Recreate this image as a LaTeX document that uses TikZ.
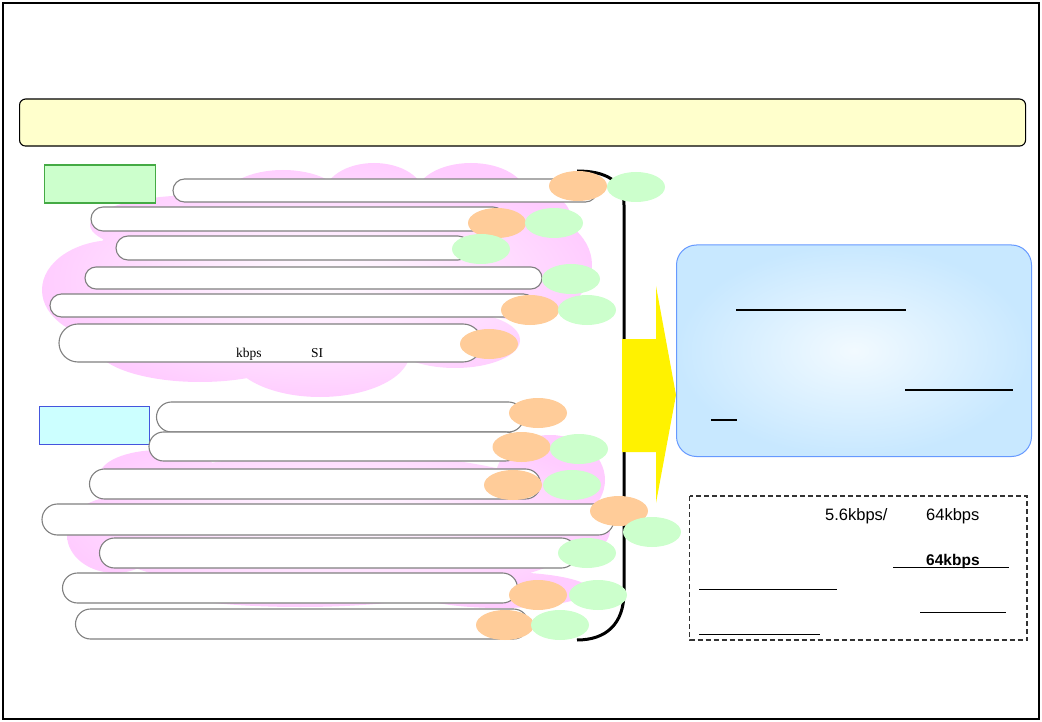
\documentclass[tikz,border=0pt]{standalone}
\usepackage{fontspec}
\setmainfont{Liberation Serif}
\newfontfamily\boxsans{Liberation Sans}
\usetikzlibrary{shapes.misc,shapes.geometric}
\definecolor{pinkc}{HTML}{FFCCFF}
\definecolor{peach}{HTML}{FFCC99}
\definecolor{mint}{HTML}{CCFFCC}
\definecolor{banner}{HTML}{FFFFCC}
\definecolor{pillgray}{HTML}{808080}
\definecolor{greenedge}{HTML}{44AA44}
\definecolor{cyanfill}{HTML}{CCFFFF}
\definecolor{blueedge}{HTML}{4455DD}
\definecolor{skyin}{HTML}{F2FAFF}
\definecolor{skyout}{HTML}{C8E8FF}
\definecolor{skyedge}{HTML}{6699FF}
\definecolor{dashgray}{HTML}{333333}
\begin{document}
\begin{tikzpicture}[x=1pt,y=-1pt,
  pill/.style={rounded rectangle, draw=pillgray, fill=white, line width=1.1pt, inner sep=0pt},
  peachdot/.style={ellipse, fill=peach, minimum width=58pt, minimum height=30pt, inner sep=0pt},
  mintdot/.style={ellipse, fill=mint, minimum width=58pt, minimum height=30pt, inner sep=0pt},
  labelbox/.style={rectangle, line width=1.2pt, inner sep=0pt, anchor=north west},
  uline/.style={line width=0.9pt},
  thickline/.style={line width=2pt},
  sanstext/.style={inner sep=0pt, anchor=base west, font=\boxsans\fontsize{16.5}{18}\selectfont},
  seriftext/.style={inner sep=0pt, anchor=base west, font=\fontsize{13.5}{15}\selectfont}]
\useasboundingbox (0,0) rectangle (1042,722);
% outer frame
\draw[line width=2.2pt] (3,3) rectangle (1039,719);
% banner
\node[draw=black, fill=banner, line width=1.1pt, rounded corners=6pt, inner sep=0pt,
  minimum width=1006pt, minimum height=47pt, anchor=north west] (banner) at (19,98.5) {};
% clouds
\begin{scope}
  \clip (283,200) ellipse [x radius=60, y radius=30]
        (374,195) ellipse [x radius=50, y radius=32]
        (471,195) ellipse [x radius=55, y radius=32]
        (320,265) ellipse [x radius=230, y radius=75]
        (115,290) ellipse [x radius=73, y radius=50]
        (200,345) ellipse [x radius=105, y radius=37]
        (320,352) ellipse [x radius=90, y radius=45]
        (455,340) ellipse [x radius=65, y radius=28]
        (520,265) ellipse [x radius=72, y radius=55]
        (480,215) ellipse [x radius=90, y radius=35]
        (200,225) ellipse [x radius=110, y radius=30];
  \shade[inner color=white, outer color=pinkc] (40,160) rectangle (600,400);
\end{scope}
\begin{scope}
  \clip (340,525) ellipse [x radius=255, y radius=72]
        (160,475) ellipse [x radius=60, y radius=25]
        (550,480) ellipse [x radius=55, y radius=45]
        (115,535) ellipse [x radius=48, y radius=38]
        (300,585) ellipse [x radius=150, y radius=22]
        (560,530) ellipse [x radius=50, y radius=30]
        (500,590) ellipse [x radius=90, y radius=18];
  \shade[inner color=white, outer color=pinkc] (60,428) rectangle (615,612);
\end{scope}
% label boxes
\node[labelbox, draw=greenedge, fill=mint, minimum width=111pt, minimum height=38pt] (grp1) at (44,164.5) {};
\node[labelbox, draw=blueedge, fill=cyanfill, minimum width=110pt, minimum height=38pt] (grp2) at (39,405.5) {};
% upper pills
\node[pill, minimum width=424pt, minimum height=23pt] (u1) at (385,190.5) {};
\node[pill, minimum width=414pt, minimum height=24pt] (u2) at (298,219) {};
\node[pill, minimum width=354pt, minimum height=24pt] (u3) at (293,248) {};
\node[pill, minimum width=457pt, minimum height=22pt] (u4) at (313.5,278) {};
\node[pill, minimum width=485pt, minimum height=23pt] (u5) at (292.5,305.5) {};
\node[pill, minimum width=423pt, minimum height=38pt] (u6) at (270.5,343) {};
\node[seriftext] (kbps) at (236,357) {kbps};
\node[seriftext] (si) at (311,357) {SI};
% lower pills
\node[pill, minimum width=367pt, minimum height=30pt] (l1) at (340,417) {};
\node[pill, minimum width=371pt, minimum height=29pt] (l2) at (334.5,446.5) {};
\node[pill, minimum width=451pt, minimum height=30pt] (l3) at (315,484) {};
\node[pill, minimum width=572pt, minimum height=31pt] (l4) at (328,519.5) {};
\node[pill, minimum width=477pt, minimum height=30pt] (l5) at (338,553) {};
\node[pill, minimum width=455pt, minimum height=30pt] (l6) at (290,588) {};
\node[pill, minimum width=453pt, minimum height=30pt] (l7) at (302,624) {};
% bracket
\draw[line width=3pt] (577,171) .. controls (606,171) and (624,181) .. (624,205)
  -- (624,592) .. controls (624,624) and (606,640) .. (577,640);
% upper dots
\node[peachdot] (po1) at (578,186) {};
\node[mintdot]  (mo1) at (636,187) {};
\node[peachdot] (po2) at (497,223) {};
\node[mintdot]  (mo2) at (554,223) {};
\node[mintdot]  (mo3) at (481,249) {};
\node[mintdot]  (mo4) at (571,279) {};
\node[peachdot] (po5) at (530,310) {};
\node[mintdot]  (mo5) at (587,310) {};
\node[peachdot] (po6) at (489,344) {};
% lower dots
\node[peachdot] (pl1) at (538,413) {};
\node[peachdot] (pl2) at (521.5,447) {};
\node[mintdot]  (ml2) at (579,449) {};
\node[peachdot] (pl3) at (513,485) {};
\node[mintdot]  (ml3) at (572,485) {};
\node[peachdot] (pl4) at (619,511) {};
\node[mintdot]  (ml4) at (652,532) {};
\node[mintdot]  (ml5) at (587,553) {};
\node[peachdot] (pl6) at (538,595) {};
\node[mintdot]  (ml6) at (598,595) {};
\node[peachdot] (pl7) at (505,625) {};
\node[mintdot]  (ml7) at (560,625) {};
% yellow arrow
\fill[yellow] (622,339) -- (656,339) -- (656,286) -- (676,395) -- (656,503)
  -- (656,452) -- (622,452) -- cycle;
% result box
\shade[inner color=skyin, outer color=skyout, rounded corners=20pt] (676.5,245) rectangle (1031.5,456.5);
\draw[draw=skyedge, line width=1pt, rounded corners=20pt] (676.5,245) rectangle (1031.5,456.5);
\coordinate (res) at (854,351);
\draw[thickline] (736,310) -- (906,310);
\draw[thickline] (905,390) -- (1013,390);
\draw[thickline] (711,420) -- (737,420);
% note box
\draw[dashgray, dash pattern=on 5pt off 3pt, line width=1.2pt] (689.5,496) rectangle (1027,640);
\coordinate (note) at (858,568);
\node[sanstext] (rate1) at (825,520) {5.6kbps/};
\node[sanstext] (rate2) at (926,520) {64kbps};
\node[sanstext, font=\boxsans\bfseries\fontsize{15.5}{18}\selectfont] (rate3) at (926,565) {64kbps};
\draw[uline] (893,567.5) -- (1009,567.5);
\draw[uline] (699,589) -- (837,589);
\draw[uline] (920,612) -- (1006,612);
\draw[uline] (699,634) -- (820,634);
\end{tikzpicture}
\end{document}
